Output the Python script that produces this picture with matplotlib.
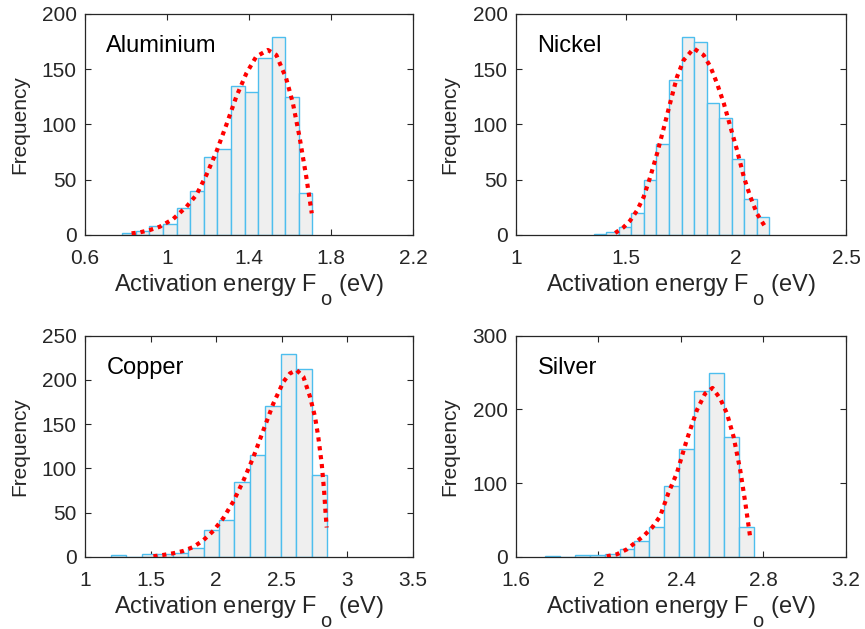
import numpy as np
import matplotlib
matplotlib.use("Agg")
import matplotlib.pyplot as plt
import matplotlib._mathtext as _mt

plt.rcParams['font.family'] = ['Liberation Sans', 'DejaVu Sans']
plt.rcParams['mathtext.fontset'] = 'custom'
plt.rcParams['mathtext.rm'] = 'Liberation Sans'

# larger, lower subscript for the "F_o" symbol in the axis labels
_mt.SHRINK_FACTOR = 0.85
_mt.FontConstantsBase.subdrop = 1.0
_mt.FontConstantsBase.sub1 = 1.0

# ---- histogram counts (14 equal bins per metal) ----
metals = ["Aluminium", "Nickel", "Copper", "Silver"]

al_range = (0.782, 1.709)
al_counts = [2, 4, 8, 10, 24, 40, 71, 78, 135, 129, 160, 179, 125, 38]

ni_range = (1.354, 2.151)
ni_counts = [1, 3, 7, 20, 50, 82, 140, 179, 175, 119, 106, 69, 33, 16]

cu_range = (1.198, 2.845)
cu_counts = [2, 0, 3, 3, 5, 10, 31, 42, 85, 115, 171, 229, 212, 93]

ag_range = (1.741, 2.752)
ag_counts = [2, 0, 3, 3, 4, 11, 21, 40, 96, 146, 225, 249, 162, 40]

# ---- fitted distribution curves ----
al_fit_x = [0.827, 0.868, 0.916, 0.965, 1.030, 1.095, 1.143, 1.192, 1.241, 1.289,
            1.338, 1.387, 1.435, 1.492, 1.533, 1.581, 1.614, 1.646, 1.679, 1.706]
al_fit_y = [1.5, 2.4, 4.5, 7.5, 14.5, 25.6, 36.2, 54.3, 75.4, 99.5,
            125.2, 146.3, 161.4, 167.4, 162.9, 141.8, 119.2, 89.0, 52.8, 19.6]

ni_fit_x = [1.451, 1.489, 1.519, 1.550, 1.580, 1.610, 1.641, 1.671, 1.702, 1.732, 1.762,
            1.808, 1.853, 1.884, 1.914, 1.945, 1.975, 2.005, 2.036, 2.066, 2.096, 2.139]
ni_fit_y = [1.8, 7.0, 13.0, 22.1, 34.2, 52.3, 73.5, 96.2, 120.4, 143.1, 158.2,
            168.8, 162.8, 152.2, 137.1, 118.9, 97.7, 76.6, 52.3, 34.2, 19.1, 5.4]

cu_fit_x = [1.521, 1.597, 1.673, 1.749, 1.826, 1.902, 1.978, 2.054, 2.131, 2.207, 2.283, 2.359,
            2.435, 2.512, 2.562, 2.613, 2.664, 2.715, 2.753, 2.778, 2.804, 2.822, 2.834, 2.842]
cu_fit_y = [0.8, 2.3, 4.2, 6.8, 11.3, 18.9, 29.5, 43.9, 62.8, 86.2, 112.7, 143.0,
            173.2, 197.8, 207.3, 211.0, 203.5, 180.8, 158.1, 135.4, 105.1, 74.9, 48.4, 33.3]

ag_fit_x = [2.040, 2.089, 2.137, 2.178, 2.218, 2.259, 2.299, 2.339, 2.380, 2.428,
            2.477, 2.517, 2.553, 2.590, 2.623, 2.655, 2.687, 2.712, 2.736]
ag_fit_y = [0.9, 3.6, 10.3, 19.3, 28.3, 39.5, 55.2, 86.7, 113.6, 158.5,
            198.9, 221.4, 229.0, 214.6, 194.4, 163.0, 118.1, 73.2, 26.0]

# ---- axis ticks ----
al_xticks = [0.6, 1.0, 1.4, 1.8, 2.2]
al_xlabels = ["0.6", "1", "1.4", "1.8", "2.2"]
al_yticks = [0, 50, 100, 150, 200]

ni_xticks = [1.0, 1.5, 2.0, 2.5]
ni_xlabels = ["1", "1.5", "2", "2.5"]
ni_yticks = [0, 50, 100, 150, 200]

cu_xticks = [1.0, 1.5, 2.0, 2.5, 3.0, 3.5]
cu_xlabels = ["1", "1.5", "2", "2.5", "3", "3.5"]
cu_yticks = [0, 50, 100, 150, 200, 250]

ag_xticks = [1.6, 2.0, 2.4, 2.8, 3.2]
ag_xlabels = ["1.6", "2", "2.4", "2.8", "3.2"]
ag_yticks = [0, 100, 200, 300]

panels = [
    (al_range, al_counts, al_fit_x, al_fit_y, al_xticks, al_xlabels, al_yticks),
    (ni_range, ni_counts, ni_fit_x, ni_fit_y, ni_xticks, ni_xlabels, ni_yticks),
    (cu_range, cu_counts, cu_fit_x, cu_fit_y, cu_xticks, cu_xlabels, cu_yticks),
    (ag_range, ag_counts, ag_fit_x, ag_fit_y, ag_xticks, ag_xlabels, ag_yticks),
]

# axes rectangles [left, bottom, width, height] in figure fractions
rects = [
    [0.0983, 0.6264, 0.3792, 0.3514],
    [0.5965, 0.6264, 0.3815, 0.3514],
    [0.0983, 0.1145, 0.3792, 0.3520],
    [0.5965, 0.1145, 0.3815, 0.3520],
]

axis_col = "#262626"
bar_face = "#efefef"
bar_edge = "#4DBEEE"

fig = plt.figure(figsize=(8.65, 6.29), dpi=100)

for name, rect, (brange, counts, fx, fy, xt, xl, yt) in zip(metals, rects, panels):
    ax = fig.add_axes(rect)
    edges = np.linspace(brange[0], brange[1], len(counts) + 1)
    ax.bar(edges[:-1], counts, width=np.diff(edges), align='edge',
           color=bar_face, edgecolor=bar_edge, linewidth=1.0, zorder=2)
    ax.plot(fx, fy, color='red', linewidth=3.0, linestyle=(0, (1, 1.15)),
            dash_capstyle='butt', zorder=3)

    ax.set_xlim(xt[0], xt[-1])
    ax.set_ylim(yt[0], yt[-1])
    ax.set_xticks(xt)
    ax.set_xticklabels(xl)
    ax.set_yticks(yt)

    ax.tick_params(direction='in', top=True, right=True, length=4,
                   width=0.8, color=axis_col, labelcolor=axis_col,
                   labelsize=15)
    ax.tick_params(axis='y', pad=6)
    ax.tick_params(axis='x', pad=10)
    for s in ax.spines.values():
        s.set_color(axis_col)
        s.set_linewidth(0.9)

    ax.set_ylabel("Frequency", fontsize=15, color=axis_col)
    ax.yaxis.set_label_coords(-0.171, 0.5)
    ax.set_xlabel("Activation energy F$\\,_{\\mathregular{o}}$ (eV)",
                  fontsize=17, color=axis_col, labelpad=3)

    ax.text(0.065, 0.905, name, transform=ax.transAxes, fontsize=17,
            color='black', ha='left', va='top')

fig.savefig("out.png", dpi=100)
